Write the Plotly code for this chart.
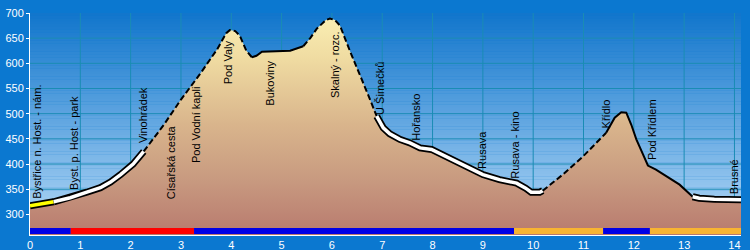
import numpy as np
import plotly.graph_objects as go

# ---------------- data ----------------
KM = [0.00, 0.47, 0.80, 1.13, 1.40, 1.60, 1.80, 2.05, 2.26, 2.66, 3.00, 3.38, 3.72,
      3.90, 3.97, 4.08, 4.17, 4.30, 4.41, 4.50, 4.61, 4.80, 5.17, 5.43, 5.57, 5.70,
      5.88, 5.96, 6.06, 6.16, 6.36, 6.73, 6.89, 6.95, 7.02, 7.15, 7.35, 7.55, 7.75,
      7.98, 8.20, 8.48, 8.75, 9.00, 9.33, 9.67, 9.85, 9.96, 10.13, 10.19, 10.60,
      10.99, 11.35, 11.45, 11.55, 11.62, 11.75, 11.85, 11.95, 12.05, 12.20, 12.28,
      12.44, 12.70, 12.91, 13.17, 13.30, 13.60, 14.13]
ELEV = [317, 325, 333, 344, 353, 364, 379, 400, 425, 478, 528, 579, 628,
        660, 666, 664, 655, 625, 612, 615, 623, 624, 625, 634, 650, 669,
        686, 689, 686, 675, 624, 535, 495, 485, 472, 460, 449, 442, 432,
        429, 418, 405, 391, 379, 369, 362, 352, 344, 344, 347, 380,
        415, 452, 462, 480, 492, 503, 502, 478, 449, 415, 397,
        389, 373, 359, 335, 332, 330, 329]

LABEL_NAMES = ["Bystřice n. Host. - nám.", "Byst. p. Host - park", "Vinohrádek",
               "Císařská cesta", "Pod Vodní kapli", "Pod Valy", "Bukoviny",
               "Skalný - rozc.", "U Šimečků", "Hořansko", "Rusava", "Rusava - kino",
               "Křídlo", "Pod Křídlem", "Brusné"]
LABEL_KM = [0.14, 0.87, 2.26, 2.79, 3.29, 3.95, 4.77, 6.05, 6.95, 7.68, 8.97, 9.65,
            11.44, 12.37, 13.99]
LABEL_Y = [335, 352, 445, 335, 405, 562, 519, 535, 502, 450, 395, 375, 475, 412, 345]

# profile line styles between km breakpoints
SEG_START = [0.00, 0.47, 2.26, 4.41, 5.43, 6.89, 10.19, 11.45, 13.17]
SEG_END = [0.47, 2.26, 4.41, 5.43, 6.89, 10.19, 11.45, 13.17, 14.13]
SEG_STYLE = ["yellow", "white", "dash", "solid", "dash", "white", "dash", "solid", "white"]

# surface bar along the bottom
BAR_BREAKS = [0.0, 0.81, 3.26, 9.62, 11.39, 12.32, 14.13]
BAR_COLORS = ["#0000e6", "#ff0000", "#0000e6", "#f8b432", "#0000e6", "#f8b432"]

X_TICKS = list(range(0, 15))
Y_TICKS = list(range(300, 701, 50))

# ---------------- styling ----------------
X_MAX = 14.13
Y_MIN, Y_MAX = 259, 700
BAR_Y = 267
OUTER = "#0b78d0"
GRID = "#1a8cb4"
FONT = "Liberation Sans"

km = np.array(KM)
el = np.array(ELEV)


def hex2rgb(h):
    h = h.lstrip("#")
    return [int(h[i:i + 2], 16) for i in (0, 2, 4)]


def mix(c1, c2, t):
    a, b = hex2rgb(c1), hex2rgb(c2)
    return "rgb(%d,%d,%d)" % tuple(round(a[i] + (b[i] - a[i]) * t) for i in range(3))


shapes = []
# background gradient (plot area)
N = 80
edges = np.linspace(Y_MIN, Y_MAX, N + 1)
for i in range(N):
    t = i / (N - 1)
    shapes.append(dict(type="rect", xref="x", yref="y", x0=0, x1=X_MAX,
                       y0=edges[i], y1=edges[i + 1] + 0.5, layer="below",
                       line=dict(width=0), fillcolor=mix("#b6daf7", "#1276cc", t)))
# grid
for v in Y_TICKS:
    if v < 700:
        shapes.append(dict(type="line", xref="x", yref="y", x0=0, x1=X_MAX, y0=v, y1=v,
                           layer="below", line=dict(color=GRID, width=1)))
for v in X_TICKS[1:]:
    shapes.append(dict(type="line", xref="x", yref="y", x0=v, x1=v, y0=Y_MIN, y1=Y_MAX,
                       layer="below", line=dict(color=GRID, width=1)))

fig = go.Figure()

# terrain fill
fig.add_trace(go.Scatter(
    x=KM, y=ELEV, mode="lines", line=dict(width=0), fill="tozeroy",
    fillgradient=dict(type="vertical", start=Y_MIN, stop=Y_MAX,
                      colorscale=[[0, "#b87a6e"], [0.25, "#c89a80"],
                                  [0.5, "#d9b58c"], [0.8, "#f0dca2"], [1, "#fbf0b4"]]),
    hoverinfo="skip", showlegend=False))

# profile line segments
for s, e, st in zip(SEG_START, SEG_END, SEG_STYLE):
    m = (km >= s - 1e-9) & (km <= e + 1e-9)
    xs, ys = km[m], el[m]
    if st in ("white", "yellow"):
        fig.add_trace(go.Scatter(x=xs, y=ys, mode="lines",
                                 line=dict(color="black", width=7),
                                 hoverinfo="skip", showlegend=False))
        fig.add_trace(go.Scatter(x=xs, y=ys, mode="lines",
                                 line=dict(color="white" if st == "white" else "#ffff00",
                                           width=3.5),
                                 hoverinfo="skip", showlegend=False))
    else:
        fig.add_trace(go.Scatter(x=xs, y=ys, mode="lines",
                                 line=dict(color="black", width=2,
                                           dash="6px,3px" if st == "dash" else "solid"),
                                 hoverinfo="skip", showlegend=False))

# bottom bar
for i, c in enumerate(BAR_COLORS):
    fig.add_trace(go.Scatter(x=[BAR_BREAKS[i], BAR_BREAKS[i + 1]], y=[BAR_Y, BAR_Y],
                             mode="lines", line=dict(color=c, width=6),
                             hoverinfo="skip", showlegend=False))

annotations = []
for name, x, y in zip(LABEL_NAMES, LABEL_KM, LABEL_Y):
    annotations.append(dict(x=x, y=y, xref="x", yref="y", text=name, showarrow=False,
                            textangle=-90, xanchor="center", yanchor="bottom", yshift=-4,
                            font=dict(family=FONT, size=11, color="black")))

fig.update_layout(
    width=750, height=250,
    margin=dict(l=30, r=9, t=13, b=15),
    paper_bgcolor=OUTER, plot_bgcolor=OUTER,
    shapes=shapes, annotations=annotations,
    font=dict(family=FONT, color="white"),
    xaxis=dict(range=[0, X_MAX], tickvals=X_TICKS, showgrid=False, zeroline=False,
               automargin=False,
               showline=True, linecolor="white", linewidth=1,
               ticks="", ticklabelstandoff=0,
               tickfont=dict(family=FONT, size=11, color="white")),
    yaxis=dict(range=[Y_MIN, Y_MAX], tickvals=Y_TICKS, showgrid=False, zeroline=False,
               automargin=False,
               showline=True, linecolor="white", linewidth=1,
               ticks="outside", ticklen=3, tickcolor="white",
               tickfont=dict(family=FONT, size=11, color="white")),
)

fig.write_html("out.html")
